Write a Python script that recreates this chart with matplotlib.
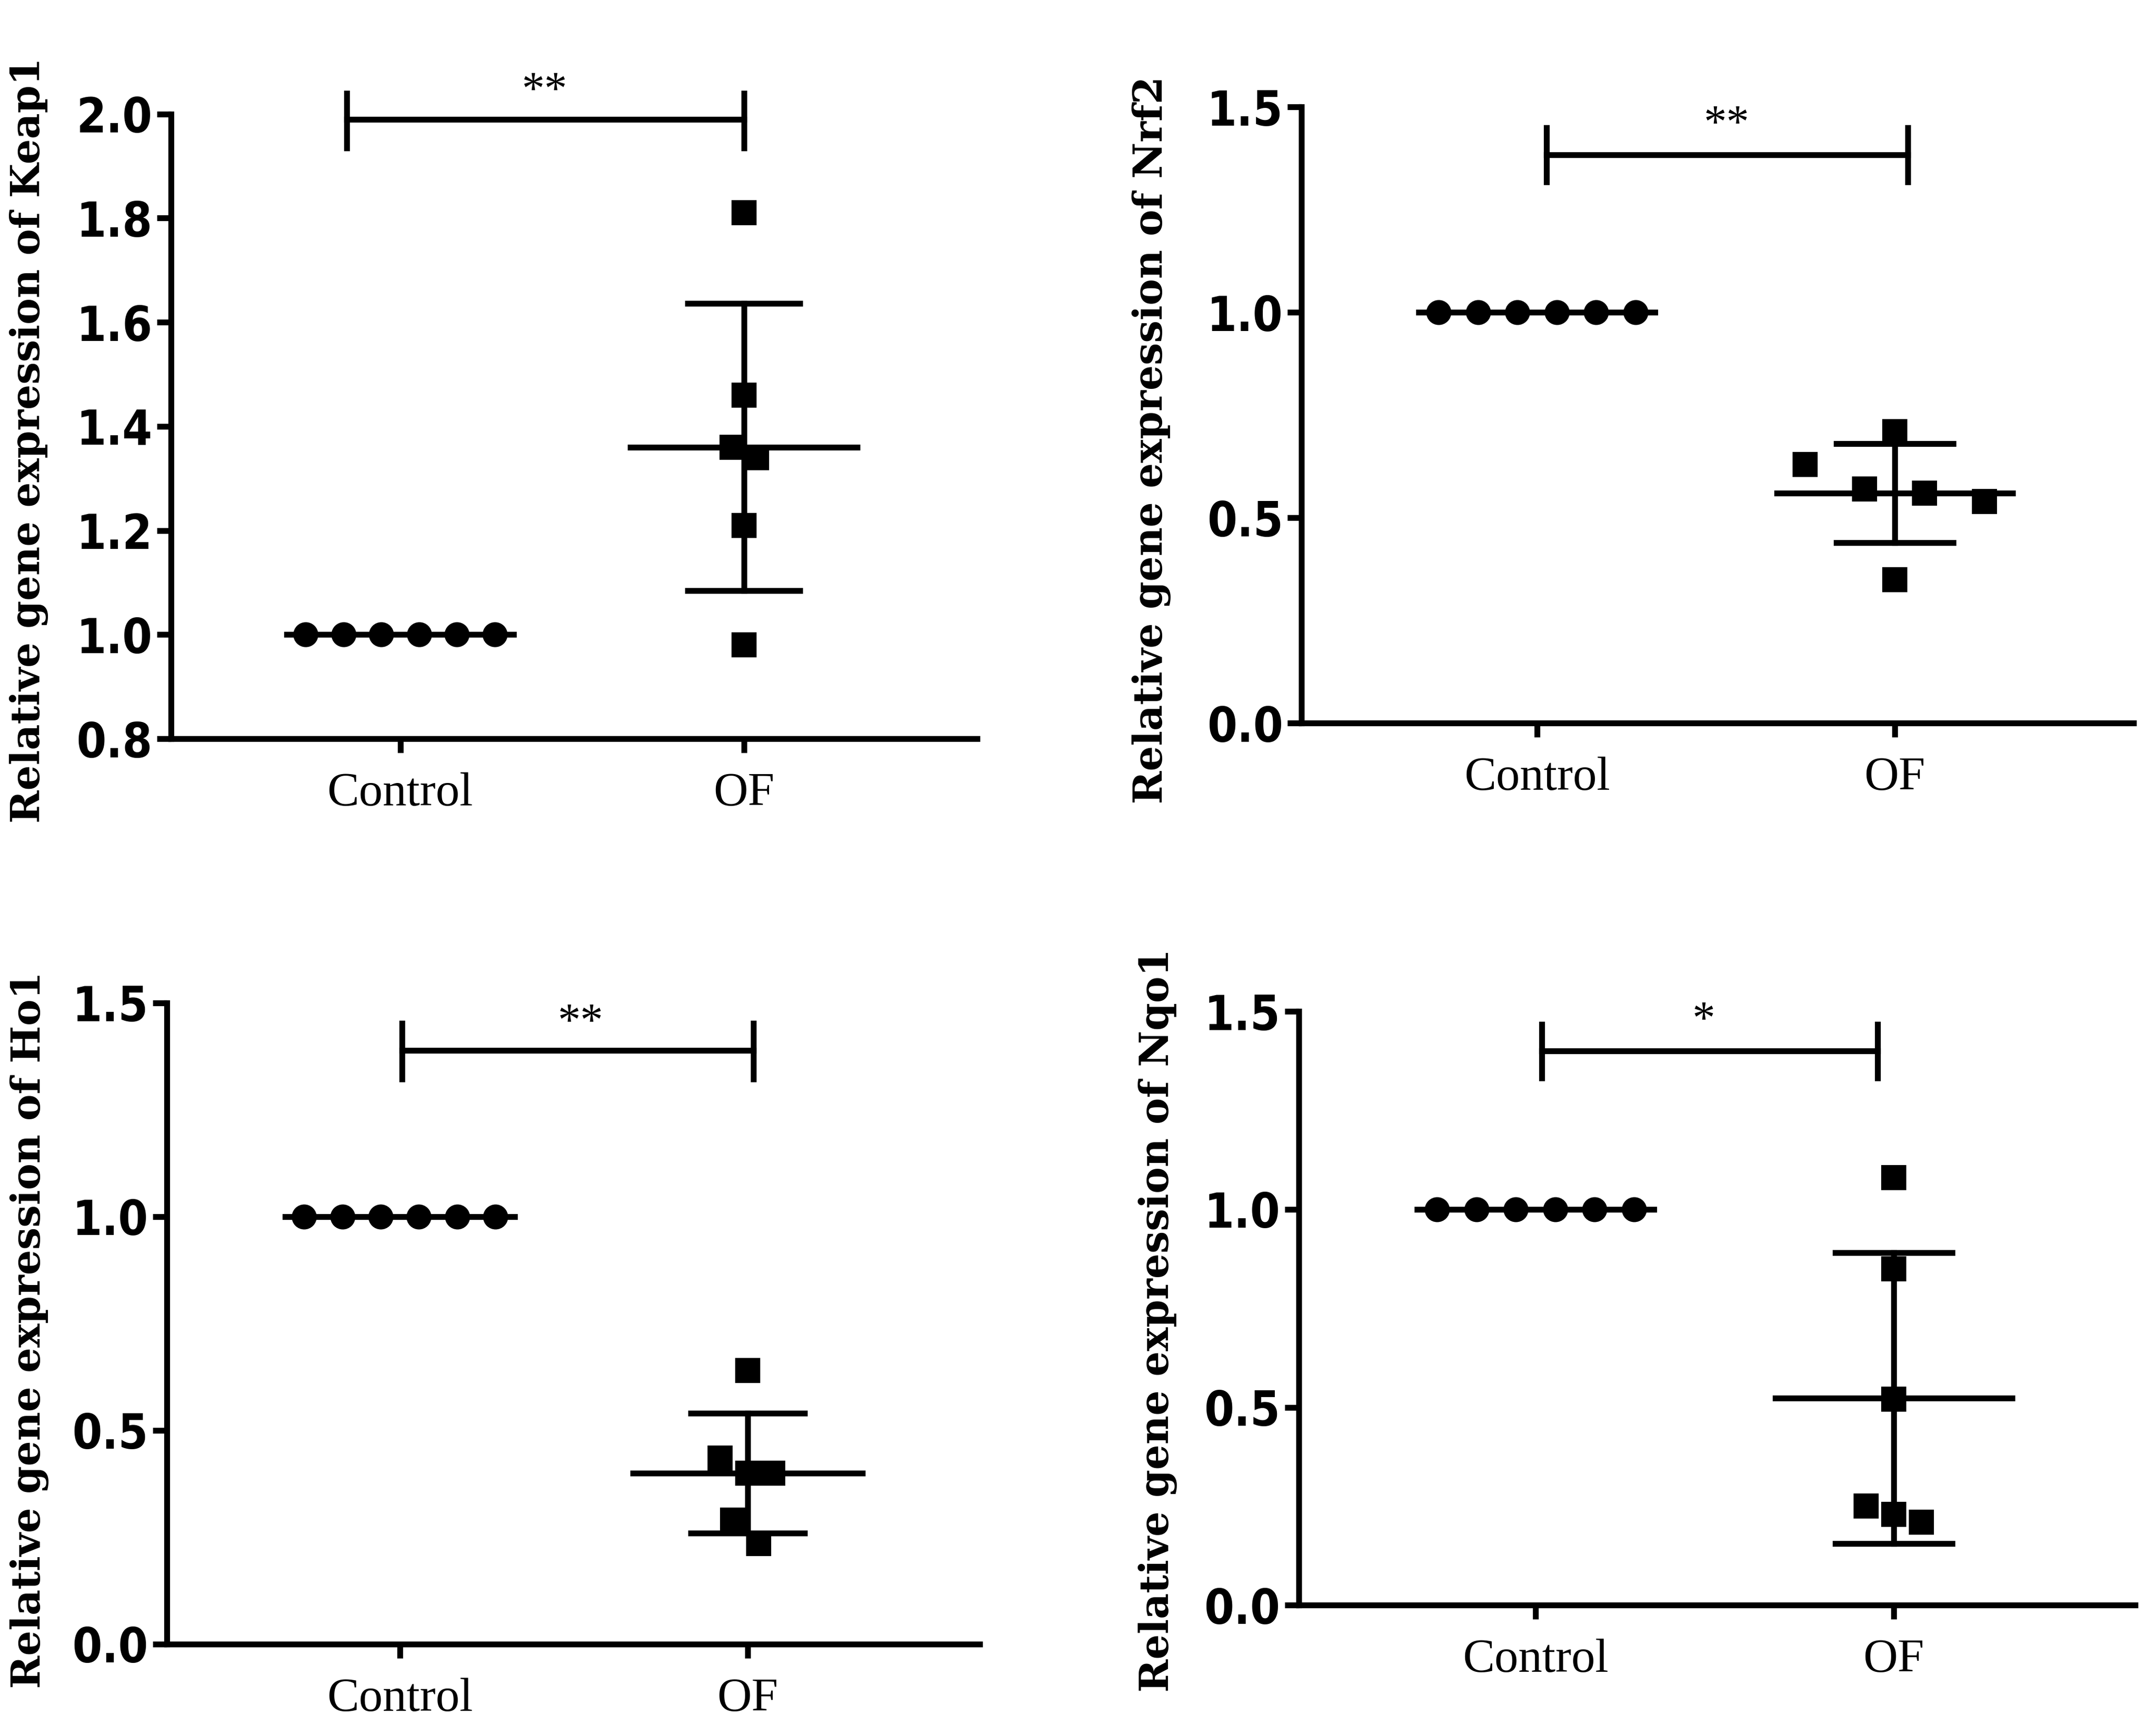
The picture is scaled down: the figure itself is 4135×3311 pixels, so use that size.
import matplotlib
matplotlib.use("Agg")
import matplotlib.pyplot as plt
import numpy as np

# ---- data ----
groups = ["Control", "OF"]
genes = ["Keap1", "Nrf2", "Ho1", "Nqo1"]

keap1_control = [1.00, 1.00, 1.00, 1.00, 1.00, 1.00]
keap1_of = [1.81, 1.46, 1.36, 1.34, 1.21, 0.98]

nrf2_control = [1.00, 1.00, 1.00, 1.00, 1.00, 1.00]
nrf2_of = [0.71, 0.63, 0.57, 0.56, 0.54, 0.35]

ho1_control = [1.00, 1.00, 1.00, 1.00, 1.00, 1.00]
ho1_of = [0.64, 0.435, 0.40, 0.40, 0.29, 0.235]

nqo1_control = [1.00, 1.00, 1.00, 1.00, 1.00, 1.00]
nqo1_of = [1.08, 0.85, 0.52, 0.25, 0.23, 0.21]

significance = ["**", "**", "**", "*"]

y_limits = [(0.8, 2.0), (0.0, 1.5), (0.0, 1.5), (0.0, 1.5)]
y_ticks = [[0.8, 1.0, 1.2, 1.4, 1.6, 1.8, 2.0],
           [0.0, 0.5, 1.0, 1.5],
           [0.0, 0.5, 1.0, 1.5],
           [0.0, 0.5, 1.0, 1.5]]

# ---- layout (scatter offsets, bracket placement, axes boxes) ----
control_offsets = [-0.275, -0.165, -0.055, 0.055, 0.165, 0.275]
of_offsets = [
    [0.0, 0.0, -0.034, 0.036, 0.0, 0.0],
    [0.0, -0.25, -0.084, 0.083, 0.25, 0.0],
    [0.0, -0.08, 0.0, 0.072, -0.044, 0.032],
    [0.0, 0.0, 0.0, -0.077, 0.0, 0.077],
]
# x0, x1, y, tick-up, tick-down, star x, star y
brackets = [
    (-0.156, 1.0, 1.99, 0.050, 0.056, 0.42, 2.042),
    (0.027, 1.036, 1.383, 0.066, 0.065, 0.53, 1.455),
    (0.006, 1.016, 1.389, 0.063, 0.068, 0.52, 1.452),
    (0.017, 0.954, 1.400, 0.067, 0.068, 0.47, 1.475),
]
boxes = [
    [0.0793, 0.572, 0.374, 0.362],
    [0.6037, 0.581, 0.386, 0.357],
    [0.0773, 0.0475, 0.377, 0.3715],
    [0.6024, 0.070, 0.388, 0.344],
]
x_limits = [(-0.667, 1.679), (-0.658, 1.668), (-0.670, 1.666), (-0.661, 1.674)]
label_coords = [(-0.152, 0.478), (-0.157, 0.46), (-0.145, 0.49), (-0.145, 0.48)]

controls = [keap1_control, nrf2_control, ho1_control, nqo1_control]
treated = [keap1_of, nrf2_of, ho1_of, nqo1_of]

LW = 2.7
tick_font = dict(family="DejaVu Sans", stretch="condensed", weight="bold", size=22)
serif = ["Liberation Serif", "DejaVu Serif"]

fig = plt.figure(figsize=(4135 / 300, 3311 / 300), dpi=300)

for i, gene in enumerate(genes):
    ax = fig.add_axes(boxes[i])
    ctrl = np.array(controls[i])
    of = np.array(treated[i])

    # control group: circles + mean line
    ax.plot(0 + np.array(control_offsets), ctrl, "o", color="black",
            markersize=10.5, zorder=3, clip_on=False)
    ax.plot([-0.33, 0.33], [ctrl.mean()] * 2, color="black", lw=LW, zorder=2)

    # OF group: squares + mean +/- SD
    m, sd = of.mean(), of.std(ddof=1)
    ax.plot(1 + np.array(of_offsets[i]), of, "s", color="black",
            markersize=10.5, zorder=3, clip_on=False)
    ax.plot([1 - 0.33, 1 + 0.33], [m, m], color="black", lw=LW, zorder=2)
    ax.plot([1, 1], [m - sd, m + sd], color="black", lw=LW, zorder=2)
    for yy in (m - sd, m + sd):
        ax.plot([1 - 0.163, 1 + 0.163], [yy, yy], color="black", lw=LW, zorder=2)

    # significance bracket
    x0, x1, yb, up, dn, sx, sy = brackets[i]
    ax.plot([x0, x1], [yb, yb], color="black", lw=LW, clip_on=False)
    for xx in (x0, x1):
        ax.plot([xx, xx], [yb - dn, yb + up], color="black", lw=LW, clip_on=False)
    ax.text(sx, sy, significance[i], ha="center", va="center",
            fontsize=21, family=serif)

    ax.set_xlim(*x_limits[i])
    ax.set_ylim(*y_limits[i])
    ax.set_xticks([0, 1])
    ax.set_xticklabels(groups, family=serif, fontsize=22)
    ax.set_yticks(y_ticks[i])
    ax.set_yticklabels([f"{t:.1f}" for t in y_ticks[i]], **tick_font)

    ax.spines["top"].set_visible(False)
    ax.spines["right"].set_visible(False)
    ax.spines["left"].set_linewidth(LW)
    ax.spines["bottom"].set_linewidth(LW)
    ax.tick_params(axis="both", width=LW, length=6.5, color="black")
    ax.tick_params(axis="x", pad=9)
    ax.tick_params(axis="y", pad=2)

    ax.set_ylabel(f"Relative gene expression of {gene}", family="DejaVu Serif",
                  fontsize=18.3, fontweight="bold")
    ax.yaxis.set_label_coords(*label_coords[i])

fig.savefig("out.png", dpi=300, facecolor="white")
